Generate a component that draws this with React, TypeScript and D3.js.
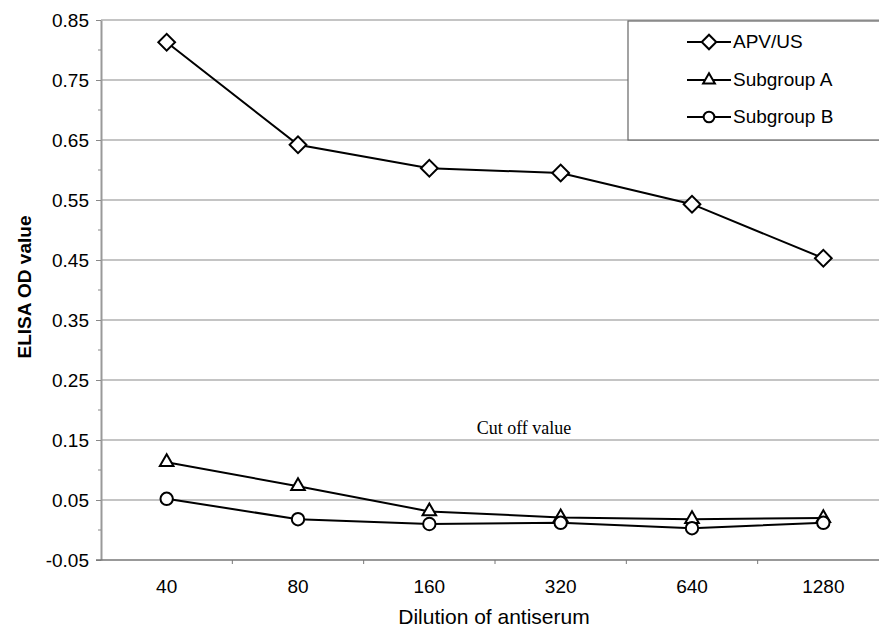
import React, { useRef, useEffect } from "react";
import * as d3 from "d3";

const dilutions = ["40", "80", "160", "320", "640", "1280"];
const apvUs = [0.813, 0.642, 0.603, 0.595, 0.543, 0.453];
const subgroupA = [0.113, 0.073, 0.031, 0.021, 0.018, 0.02];
const subgroupB = [0.052, 0.018, 0.01, 0.012, 0.003, 0.012];
const yMajorTicks = [-0.05, 0.05, 0.15, 0.25, 0.35, 0.45, 0.55, 0.65, 0.75, 0.85];
const yMinorTicks = [0, 0.1, 0.2, 0.3, 0.4, 0.5, 0.6, 0.7, 0.8];
const seriesNames = ["APV/US", "Subgroup A", "Subgroup B"];
const cutOffLabel = "Cut off value";

const App = () => {
  const svgRef = useRef<SVGSVGElement>(null);

  useEffect(() => {
    const svg = d3.select(svgRef.current);
    svg.selectAll("*").remove();

    const width = 879;
    const height = 632;
    const margin = { top: 20, right: -10, bottom: 72, left: 101 };

    const x = d3
      .scaleBand()
      .domain(dilutions)
      .range([margin.left, width - margin.right])
      .padding(0);
    const y = d3
      .scaleLinear()
      .domain([-0.05, 0.85])
      .range([height - margin.bottom, margin.top]);

    // grid lines
    svg
      .append("g")
      .selectAll("line")
      .data(yMajorTicks.slice(1))
      .join("line")
      .attr("x1", margin.left)
      .attr("x2", width)
      .attr("y1", (d) => y(d))
      .attr("y2", (d) => y(d))
      .attr("stroke", "#8a8a8a")
      .attr("stroke-width", 1.2);

    // y axis
    const yAxis = svg
      .append("g")
      .attr("transform", `translate(${margin.left},0)`)
      .call(
        d3
          .axisLeft(y)
          .tickValues(yMajorTicks)
          .tickSize(5)
          .tickSizeOuter(0)
          .tickPadding(7)
          .tickFormat((d) => (d as number).toFixed(2))
      );
    yAxis.select(".domain").attr("stroke", "#999").attr("stroke-width", 2);
    yAxis.selectAll(".tick line").attr("stroke", "#888");
    yAxis
      .selectAll(".tick text")
      .attr("fill", "#000")
      .style("font-family", "Liberation Sans, Arial, sans-serif")
      .style("font-size", "19px");

    svg
      .append("g")
      .selectAll("line")
      .data(yMinorTicks)
      .join("line")
      .attr("x1", margin.left - 3)
      .attr("x2", margin.left)
      .attr("y1", (d) => y(d))
      .attr("y2", (d) => y(d))
      .attr("stroke", "#888");

    // x axis
    const xAxisY = y(-0.05);
    svg
      .append("line")
      .attr("x1", margin.left - 5)
      .attr("x2", width)
      .attr("y1", xAxisY)
      .attr("y2", xAxisY)
      .attr("stroke", "#777")
      .attr("stroke-width", 1.5);
    svg
      .append("g")
      .selectAll("line")
      .data(dilutions.slice(1))
      .join("line")
      .attr("x1", (d) => x(d)!)
      .attr("x2", (d) => x(d)!)
      .attr("y1", xAxisY)
      .attr("y2", xAxisY + 4)
      .attr("stroke", "#777");
    svg
      .append("g")
      .selectAll("text")
      .data(dilutions)
      .join("text")
      .attr("x", (d) => x(d)! + x.bandwidth() / 2)
      .attr("y", xAxisY + 33)
      .attr("text-anchor", "middle")
      .style("font-family", "Liberation Sans, Arial, sans-serif")
      .style("font-size", "19px")
      .text((d) => d);

    // axis titles
    svg
      .append("text")
      .attr("x", 494)
      .attr("y", 624)
      .attr("text-anchor", "middle")
      .style("font-family", "Liberation Sans, Arial, sans-serif")
      .style("font-size", "21px")
      .text("Dilution of antiserum");
    svg
      .append("text")
      .attr("transform", "translate(31,287) rotate(-90)")
      .attr("text-anchor", "middle")
      .style("font-family", "Liberation Sans, Arial, sans-serif")
      .style("font-size", "19px")
      .style("font-weight", "bold")
      .text("ELISA OD value");

    svg
      .append("text")
      .attr("x", 524)
      .attr("y", 434)
      .attr("text-anchor", "middle")
      .style("font-family", "Liberation Serif, Times New Roman, serif")
      .style("font-size", "18px")
      .text(cutOffLabel);

    // series
    const symbols = [
      { type: d3.symbolSquare, size: 140, rotate: 45 },
      { type: d3.symbolTriangle, size: 80, rotate: 0 },
      { type: d3.symbolCircle, size: 120, rotate: 0 },
    ];
    const allSeries = [apvUs, subgroupA, subgroupB];
    const line = d3
      .line<number>()
      .x((d, i) => x(dilutions[i])! + x.bandwidth() / 2)
      .y((d) => y(d));

    allSeries.forEach((values, s) => {
      svg
        .append("path")
        .attr("d", line(values))
        .attr("fill", "none")
        .attr("stroke", "#000")
        .attr("stroke-width", 2);
      svg
        .append("g")
        .selectAll("path")
        .data(values)
        .join("path")
        .attr("d", d3.symbol().type(symbols[s].type).size(symbols[s].size)())
        .attr(
          "transform",
          (d, i) =>
            `translate(${x(dilutions[i])! + x.bandwidth() / 2},${y(d)}) rotate(${symbols[s].rotate})`
        )
        .attr("fill", "#fff")
        .attr("stroke", "#000")
        .attr("stroke-width", 2);
    });

    // legend
    const legend = svg.append("g");
    legend
      .append("rect")
      .attr("x", 628)
      .attr("y", 21)
      .attr("width", 270)
      .attr("height", 119)
      .attr("fill", "#fff")
      .attr("stroke", "#666")
      .attr("stroke-width", 1.2);
    const rowY = [42, 80, 117];
    seriesNames.forEach((name, s) => {
      const g = legend.append("g").attr("transform", `translate(0,${rowY[s]})`);
      g.append("line")
        .attr("x1", 687)
        .attr("x2", 731)
        .attr("y1", 0)
        .attr("y2", 0)
        .attr("stroke", "#000")
        .attr("stroke-width", 2);
      g.append("path")
        .attr("d", d3.symbol().type(symbols[s].type).size(symbols[s].size * 0.75)())
        .attr("transform", `translate(709,0) rotate(${symbols[s].rotate})`)
        .attr("fill", "#fff")
        .attr("stroke", "#000")
        .attr("stroke-width", 2);
      g.append("text")
        .attr("x", 733)
        .attr("y", 6)
        .style("font-family", "Liberation Sans, Arial, sans-serif")
        .style("font-size", "19px")
        .text(name);
    });
  }, []);

  return (
    <svg
      ref={svgRef}
      width={879}
      height={632}
      style={{ position: "absolute", left: 0, top: 0, background: "#fff" }}
    ></svg>
  );
};

export default App;
